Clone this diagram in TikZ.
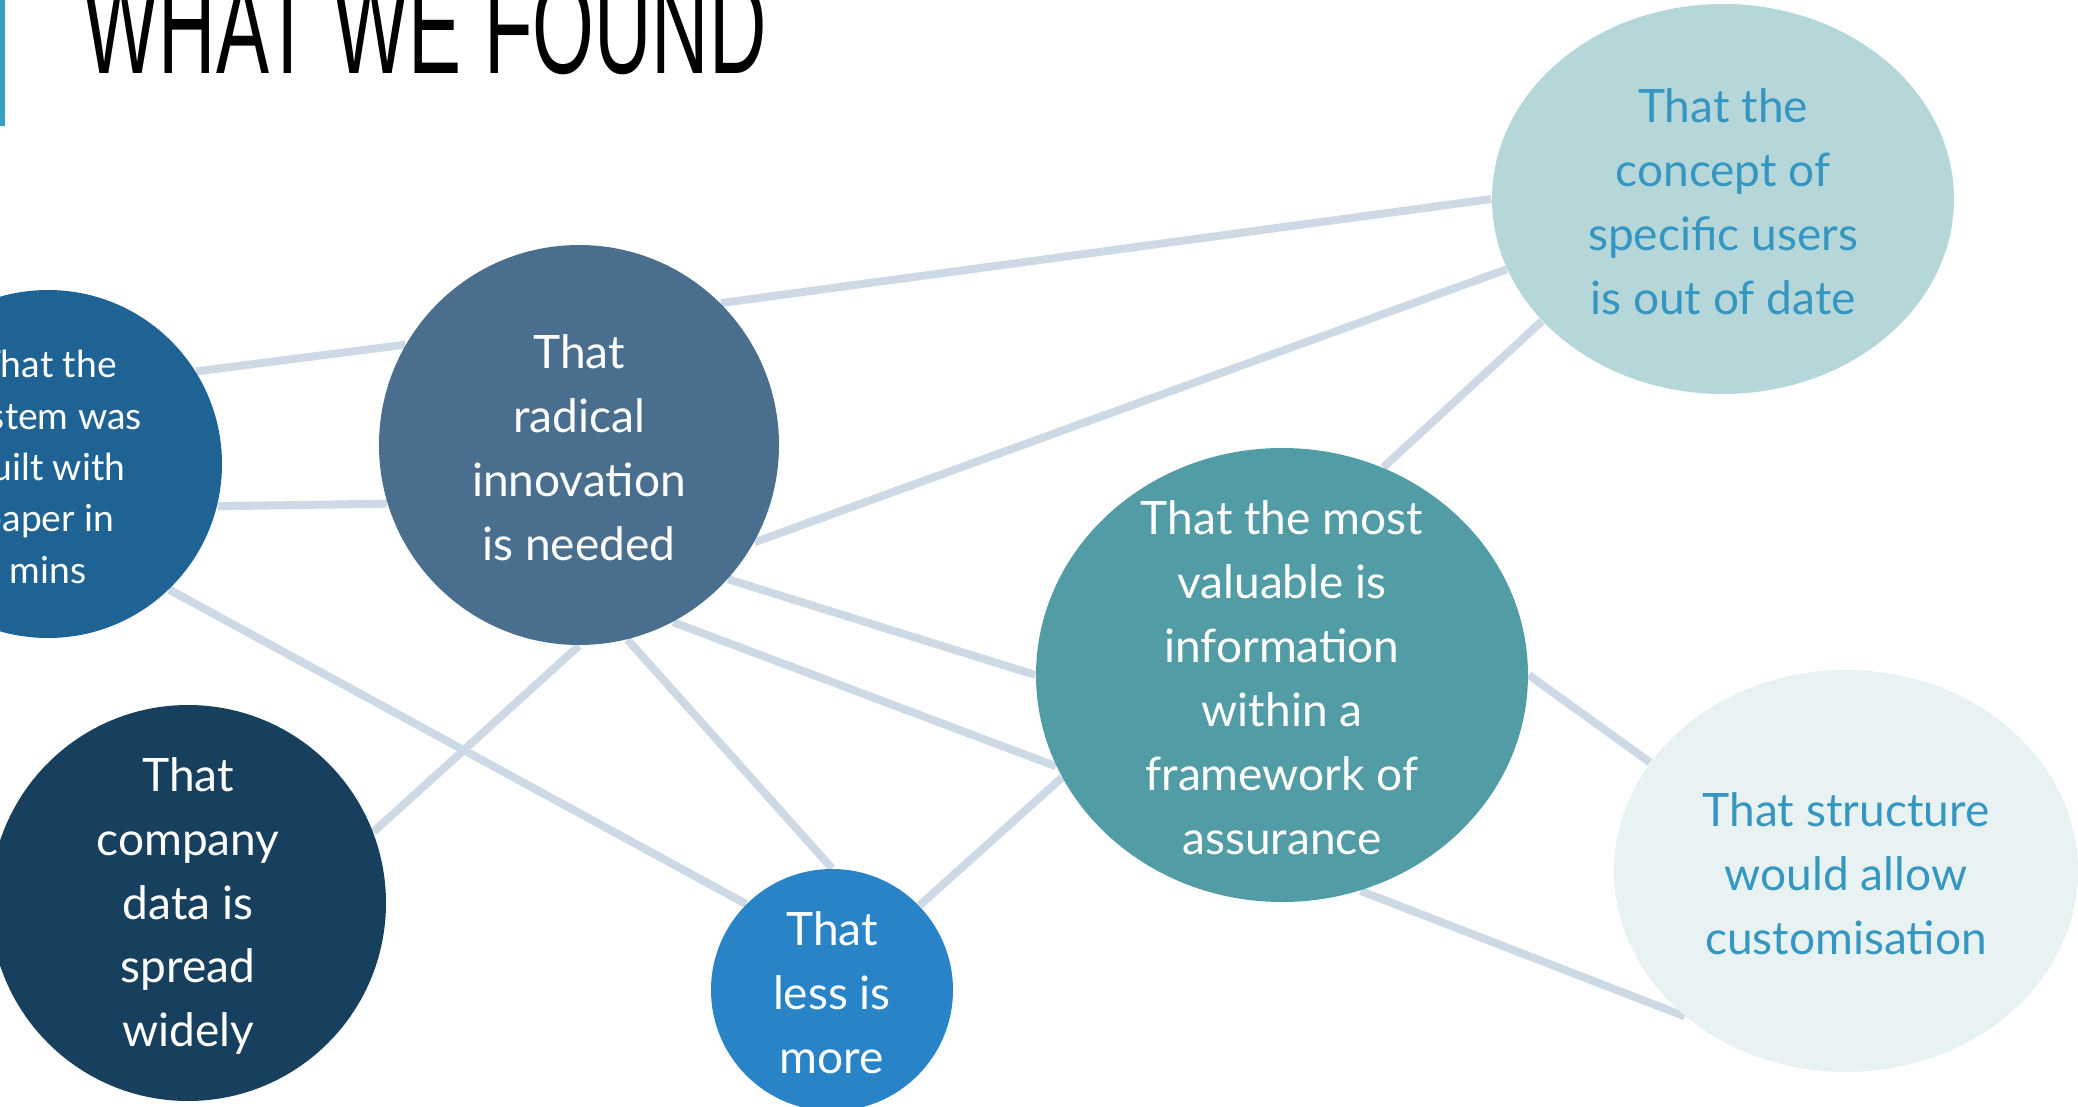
\documentclass[tikz,border=0pt]{standalone}
\usepackage{fontspec}
\usepackage{graphicx}
\setmainfont{Lato}
\newfontfamily\titlefont{Liberation Sans}
\usetikzlibrary{shapes.geometric}
\pgfdeclarelayer{bg}
\pgfsetlayers{bg,main}
\definecolor{cA}{HTML}{1F6395}
\definecolor{cB}{HTML}{4A6F8E}
\definecolor{cC}{HTML}{B5D7DA}
\definecolor{cD}{HTML}{529DA5}
\definecolor{cE}{HTML}{E8F2F3}
\definecolor{cF}{HTML}{173F5E}
\definecolor{cG}{HTML}{2884C6}
\definecolor{linkc}{HTML}{CDDAE5}
\definecolor{lighttext}{HTML}{3597C1}
\definecolor{barc}{HTML}{3C9DC5}
\begin{document}
\begin{tikzpicture}[x=0.1mm,y=-0.1mm,
  bubble/.style={circle,inner sep=0pt,draw=none},
  oval/.style={ellipse,inner sep=0pt,draw=none},
  txt/.style={inner sep=0pt,align=center,text=white,font=\fontsize{13.1}{18.2}\selectfont},
  smalltxt/.style={txt,font=\fontsize{10.6}{14.6}\selectfont},
  link/.style={draw=linkc,line width=0.8mm}]
\useasboundingbox (0,0) rectangle (2078,1107);
\clip (0,0) rectangle (2078,1107);
\fill[barc] (0,0) rectangle (5,126);
\node[anchor=base west,inner sep=0pt] (title) at (83,73)
  {\resizebox{68.3mm}{9.5mm}{\titlefont WHAT WE FOUND}};
% bubbles
\node[bubble,fill=cA,minimum size=34.8mm] (c1) at (48,464) {};
\node[bubble,fill=cB,minimum size=40mm] (c2) at (579,445) {};
\node[oval,fill=cC,minimum width=46.2mm,minimum height=39mm] (c3) at (1723,199) {};
\node[oval,fill=cD,minimum width=49.2mm,minimum height=45.4mm] (c4) at (1282,675) {};
\node[oval,fill=cE,minimum width=46.4mm,minimum height=40.2mm] (c5) at (1846,871) {};
\node[bubble,fill=cF,minimum size=39.6mm] (c6) at (188,903) {};
\node[bubble,fill=cG,minimum size=24.2mm] (c7) at (832,990) {};
% texts
\node[smalltxt] (t1) at ([yshift=-0.3mm]c1.center) {That the\\system was\\built with\\paper in\\mins};
\node[txt] (t2) at ([yshift=-0.3mm]c2.center) {That\\radical\\innovation\\is needed};
\node[txt,text=lighttext] (t3) at ([yshift=-0.3mm]c3.center) {That the\\concept of\\specific users\\is out of date};
\node[txt] (t4) at ([yshift=-0.3mm]c4.center) {That the most\\valuable is\\information\\within a\\framework of\\assurance};
\node[txt,text=lighttext] (t5) at ([yshift=-0.3mm]c5.center) {That structure\\would allow\\customisation};
\node[txt] (t6) at ([yshift=-0.3mm]c6.center) {That\\company\\data is\\spread\\widely};
\node[txt] (t7) at ([yshift=-0.3mm]c7.center) {That\\less is\\more};
% connectors
\begin{pgfonlayer}{bg}
\draw[link] (c1.32) -- (c2.150);
\draw[link] (c1.-14) -- (c2.197);
\draw[link] (c1.-46) -- (c7.135);
\draw[link] (c2.45) -- (c3.180);
\draw[link] (c2.-29) -- (c3.-162.5);
\draw[link] (c2.-42) -- (c4.180);
\draw[link] (c2.-62) -- (c4.-158);
\draw[link] (c2.-90) -- (c6.21.6);
\draw[link] (c2.-76) -- (c7.90);
\draw[link] (c7.44) -- (c4.-155.4);
\draw[link] (c4.64) -- (c3.-146);
\draw[link] (c4.0) -- (c5.151);
\draw[link] (c4.-70) -- (c5.-138.4);
\end{pgfonlayer}
\end{tikzpicture}
\end{document}
